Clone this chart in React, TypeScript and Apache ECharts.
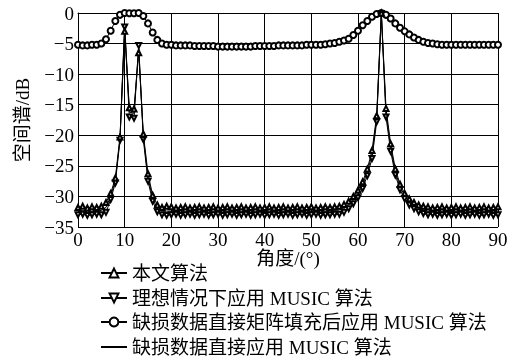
import React, { useEffect, useRef } from "react";
import * as echarts from "echarts";

const angles = [
  0, 1, 2, 3, 4, 5, 6, 7, 8, 9,
  10, 11, 12, 13, 14, 15, 16, 17, 18, 19,
  20, 21, 22, 23, 24, 25, 26, 27, 28, 29,
  30, 31, 32, 33, 34, 35, 36, 37, 38, 39,
  40, 41, 42, 43, 44, 45, 46, 47, 48, 49,
  50, 51, 52, 53, 54, 55, 56, 57, 58, 59,
  60, 61, 62, 63, 64, 65, 66, 67, 68, 69,
  70, 71, 72, 73, 74, 75, 76, 77, 78, 79,
  80, 81, 82, 83, 84, 85, 86, 87, 88, 89,
  90,
];

// 本文算法 (triangle up)
const proposed = [
  -31.8, -31.6, -31.9, -31.7, -31.8, -31.6, -31.0, -29.5, -27.0, -20.3,
  -3.0, -15.5, -15.7, -6.5, -19.8, -26.3, -29.8, -31.4, -31.8, -31.6,
  -31.7, -31.9, -31.8, -31.7, -31.9, -31.8, -31.7, -31.9, -31.8, -31.7,
  -31.9, -31.8, -31.7, -31.9, -31.8, -31.7, -31.9, -31.8, -31.7, -31.9,
  -31.8, -31.7, -31.9, -31.8, -31.7, -31.9, -31.8, -31.7, -31.9, -31.8,
  -31.7, -31.9, -31.8, -31.7, -31.8, -31.7, -31.6, -31.3, -30.8, -30.0,
  -29.0, -27.6, -25.5, -22.5, -16.8, 0.0, -15.6, -21.4, -25.5, -28.0,
  -29.5, -30.4, -31.0, -31.4, -31.6, -31.7, -31.9, -31.8, -31.7, -31.9,
  -31.8, -31.7, -31.9, -31.8, -31.7, -31.9, -31.8, -31.7, -31.9, -31.8,
  -31.7,
];

// 理想情况下应用 MUSIC 算法 (triangle down)
const ideal = [
  -33.0, -32.9, -33.1, -33.0, -32.9, -33.0, -32.6, -30.5, -27.8, -20.8,
  -2.3, -17.0, -17.2, -5.3, -20.7, -27.5, -30.8, -32.5, -33.0, -33.1,
  -33.0, -32.9, -33.1, -33.0, -32.9, -33.1, -33.0, -32.9, -33.1, -33.0,
  -32.9, -33.1, -33.0, -32.9, -33.1, -33.0, -32.9, -33.1, -33.0, -32.9,
  -33.1, -33.0, -32.9, -33.1, -33.0, -32.9, -33.1, -33.0, -32.9, -33.1,
  -33.0, -32.9, -33.1, -33.0, -33.0, -32.9, -32.9, -32.6, -32.0, -31.2,
  -30.2, -28.7, -26.6, -23.8, -17.8, -0.1, -17.0, -22.6, -26.5, -28.9,
  -30.4, -31.4, -32.0, -32.5, -32.8, -33.0, -32.9, -33.1, -33.0, -32.9,
  -33.1, -33.0, -32.9, -33.1, -33.0, -32.9, -33.1, -33.0, -32.9, -33.1,
  -33.0,
];

// 缺损数据直接矩阵填充后应用 MUSIC 算法 (circle)
const matrixFill = [
  -5.2, -5.3, -5.3, -5.2, -5.2, -5.0, -4.3, -2.9, -1.3, -0.3,
  0.0, -0.05, -0.05, 0.0, -0.5, -1.7, -3.2, -4.4, -5.0, -5.2,
  -5.2, -5.3, -5.3, -5.3, -5.3, -5.4, -5.4, -5.4, -5.4, -5.4,
  -5.5, -5.5, -5.5, -5.5, -5.5, -5.5, -5.5, -5.5, -5.4, -5.4,
  -5.4, -5.4, -5.4, -5.3, -5.3, -5.3, -5.3, -5.3, -5.3, -5.2,
  -5.2, -5.2, -5.2, -5.1, -5.0, -4.9, -4.7, -4.5, -4.2, -3.6,
  -2.9, -2.0, -1.3, -0.6, -0.15, 0.0, -0.3, -0.9, -1.7, -2.4,
  -3.0, -3.5, -4.0, -4.4, -4.7, -4.9, -5.0, -5.1, -5.2, -5.2,
  -5.2, -5.2, -5.2, -5.2, -5.2, -5.2, -5.2, -5.2, -5.2, -5.2,
  -5.2,
];

// 缺损数据直接应用 MUSIC 算法 (plain line)
const direct = [
  -32.4, -32.3, -32.5, -32.4, -32.3, -32.3, -31.8, -30.0, -27.4, -20.5,
  -1.8, -16.2, -16.4, -5.6, -20.2, -26.9, -30.3, -32.0, -32.4, -32.4,
  -32.4, -32.3, -32.5, -32.4, -32.3, -32.5, -32.4, -32.3, -32.5, -32.4,
  -32.3, -32.5, -32.4, -32.3, -32.5, -32.4, -32.3, -32.5, -32.4, -32.3,
  -32.5, -32.4, -32.3, -32.5, -32.4, -32.3, -32.5, -32.4, -32.3, -32.5,
  -32.4, -32.3, -32.5, -32.4, -32.4, -32.3, -32.2, -32.0, -31.4, -30.6,
  -29.6, -28.1, -26.0, -23.1, -17.3, 0.0, -16.3, -22.0, -26.0, -28.4,
  -29.9, -30.9, -31.5, -31.9, -32.2, -32.4, -32.4, -32.5, -32.4, -32.3,
  -32.5, -32.4, -32.3, -32.5, -32.4, -32.3, -32.5, -32.4, -32.3, -32.5,
  -32.4,
];

const seriesNames = [
  "本文算法",
  "理想情况下应用 MUSIC 算法",
  "缺损数据直接矩阵填充后应用 MUSIC 算法",
  "缺损数据直接应用 MUSIC 算法",
];

const FONT = "'Liberation Serif', 'Noto Sans CJK SC', serif";

export default function App() {
  const ref = useRef<HTMLDivElement>(null);

  useEffect(() => {
    if (!ref.current) return;
    const chart = echarts.init(ref.current, undefined, { renderer: "svg" });
    const pairs = (vals: number[]) => angles.map((a, i) => [a, vals[i]]);
    const lineStyle = { color: "#000", width: 1 };
    const itemStyle = { color: "#000", borderWidth: 1 };
    const legendCenters = [272, 297, 321, 346];
    chart.setOption({
      animation: false,
      textStyle: { fontFamily: FONT, color: "#000" },
      grid: { left: 78, right: 18, top: 13, bottom: 136, containLabel: false },
      legend: seriesNames.map((n, i) => ({
        orient: "horizontal",
        left: 100,
        top: legendCenters[i] - 8.5,
        itemWidth: 26,
        itemHeight: i === 3 ? 1 : 11,
        padding: 0,
        data: [n],
        textStyle: { fontFamily: FONT, fontSize: 19, color: "#000" },
      })),
      xAxis: {
        type: "value",
        min: 0,
        max: 90,
        interval: 10,
        name: "角度/(°)",
        nameLocation: "middle",
        nameGap: 22,
        nameMoveOverlap: false,
        nameTextStyle: { fontFamily: FONT, fontSize: 19, color: "#000" },
        axisLine: { show: true, lineStyle: { color: "#000", width: 1 } },
        axisTick: { show: false },
        axisLabel: { fontFamily: FONT, fontSize: 19, color: "#000", margin: 3 },
        splitLine: { show: true, lineStyle: { color: "#000", width: 1 } },
      },
      yAxis: {
        type: "value",
        min: -35,
        max: 0,
        interval: 5,
        name: "空间谱/dB",
        nameLocation: "middle",
        nameGap: 46,
        nameMoveOverlap: false,
        nameTextStyle: { fontFamily: FONT, fontSize: 19, color: "#000" },
        axisLine: { show: true, lineStyle: { color: "#000", width: 1 } },
        axisTick: { show: false },
        axisLabel: {
          fontFamily: FONT,
          fontSize: 19,
          color: "#000",
          margin: 4,
          formatter: (v: number) => String(v).replace("-", "−"),
        },
        splitLine: { show: true, lineStyle: { color: "#000", width: 1 } },
      },
      series: [
        {
          name: seriesNames[3],
          type: "line",
          data: pairs(direct),
          symbol: "none",
          lineStyle,
          itemStyle,
          z: 2,
        },
        {
          name: seriesNames[2],
          type: "line",
          data: pairs(matrixFill),
          symbol: "emptyCircle",
          symbolSize: 6,
          lineStyle,
          itemStyle,
          z: 3,
        },
        {
          name: seriesNames[1],
          type: "line",
          data: pairs(ideal),
          symbol: "emptyTriangle",
          symbolRotate: 180,
          symbolSize: 5,
          lineStyle,
          itemStyle,
          z: 4,
        },
        {
          name: seriesNames[0],
          type: "line",
          data: pairs(proposed),
          symbol: "emptyTriangle",
          symbolSize: 5,
          lineStyle,
          itemStyle,
          z: 5,
        },
      ],
    });
    return () => chart.dispose();
  }, []);

  return (
    <div
      ref={ref}
      style={{ position: "fixed", left: 0, top: 0, width: 516, height: 363 }}
    />
  );
}
